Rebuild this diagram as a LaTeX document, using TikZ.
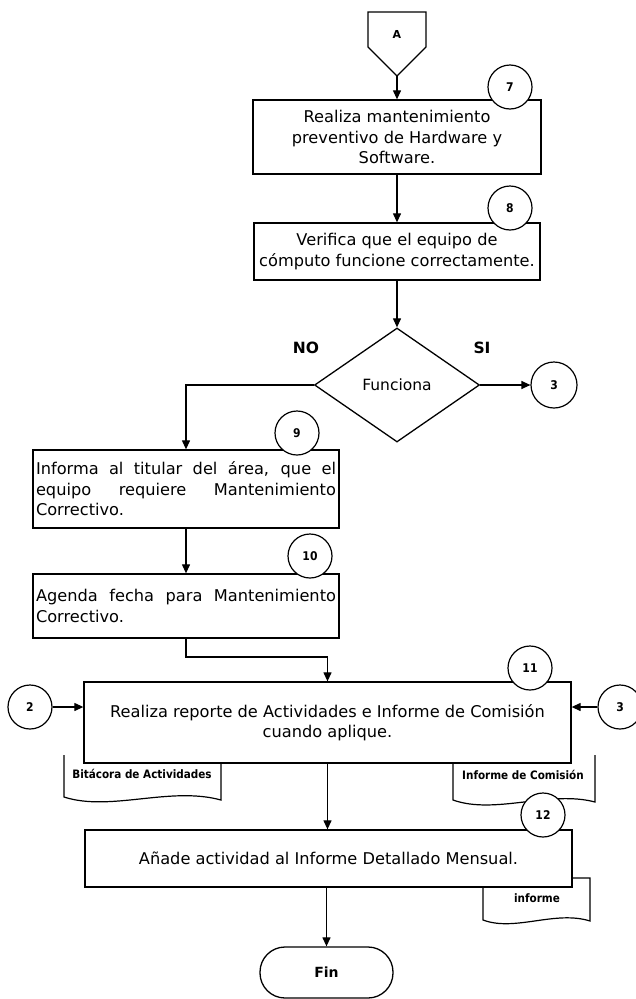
\documentclass[tikz,border=0pt]{standalone}
\usepackage{fontspec}
\setmainfont{DejaVu Sans}
\newfontfamily\condfont{DejaVu Sans Condensed}
\usetikzlibrary{shapes.geometric,arrows.meta}
\hyphenpenalty=10000
\exhyphenpenalty=10000
\begin{document}
\begin{tikzpicture}[x=1pt,y=-1pt,
  every path/.style={line width=1.2pt},
  box/.style={draw,line width=1.3pt,fill=white,inner sep=4pt,
    font=\fontsize{16.2}{20.5}\selectfont},
  jbox/.style={box,text width=300pt,align=justify,inner sep=3pt,anchor=center},
  num/.style={draw,circle,fill=white,minimum size=44pt,inner sep=0pt,
    font=\condfont\bfseries\fontsize{12}{14}\selectfont},
  decision/.style={draw,diamond,line width=1.3pt,minimum width=165pt,minimum height=114pt,
    inner sep=0pt,font=\fontsize{15.5}{18}\selectfont},
  term/.style={draw,rounded corners=25pt,minimum width=133pt,minimum height=51pt,
    line width=1.3pt,font=\bfseries\fontsize{14}{16}\selectfont},
  doclabel/.style={font=\condfont\bfseries\fontsize{11.6}{13}\selectfont},
  arr/.style={-{Triangle[length=9pt,width=8pt]}},
  yn/.style={font=\bfseries\fontsize{15.5}{17}\selectfont}]
\useasboundingbox (0,0) rectangle (635,999);

% off-page connector A
\draw[line width=1.3pt] (368,12) -- (426,12) -- (426,47) -- (397,76) -- (368,47) -- cycle;
\node[font=\bfseries\fontsize{11}{13}\selectfont] (A) at (397,34) {A};
\coordinate (Atip) at (397,76);

% process boxes
\node[box,minimum width=288pt,minimum height=74pt,align=center] (b7) at (397,137)
  {Realiza mantenimiento\\preventivo de Hardware y\\Software.};
\node[box,minimum width=286pt,minimum height=57pt,align=center] (b8) at (397,251.5)
  {Verifica que el equipo de\\cómputo funcione correctamente.};
\node[decision] (dec) at (397,385) {Funciona};
\node[jbox,minimum height=78pt] (b9) at (186,489)
  {Informa al titular del área, que el\linebreak equipo requiere Mantenimiento\linebreak Correctivo.};
\node[jbox,minimum height=64pt] (b10) at (186,606)
  {Agenda fecha para Mantenimiento\linebreak Correctivo.};

% documents under box 11 and box 12
\draw[line width=1.2pt,fill=white] (64,755) -- (64,797)
  .. controls (110,812) and (170,786) .. (221,800) -- (221,755);
\node[doclabel] (d1) at (142,774) {Bitácora de Actividades};
\draw[line width=1.2pt,fill=white] (453,755) -- (453,800)
  .. controls (495,815) and (550,790) .. (595,802) -- (595,755);
\node[doclabel] (d2) at (523,775) {Informe de Comisión};
\draw[line width=1.2pt,fill=white] (483,878) -- (483,920)
  .. controls (515,932) and (555,910) .. (590,921) -- (590,878) -- cycle;
\node[doclabel] (d3) at (537,898) {informe};

\node[box,minimum width=487pt,minimum height=81pt,align=center] (b11) at (327.5,722.5)
  {Realiza reporte de Actividades e Informe de Comisión\\cuando aplique.};
\node[box,minimum width=487pt,minimum height=57pt,align=center] (b12) at (328.5,858.5)
  {Añade actividad al Informe Detallado Mensual.};
\node[term] (fin) at (326.5,972.5) {Fin};

% step numbers and connectors
\node[num] (c7) at (510,87) {7};
\node[num] (c8) at (510,208) {8};
\node[num,minimum size=46pt] (c3a) at (554,385) {3};
\node[num] (c9) at (297,433) {9};
\node[num] (c10) at (310,556) {10};
\node[num] (c11) at (530,668) {11};
\node[num] (c2) at (30,707) {2};
\node[num] (c3b) at (620,707) {3};
\node[num] (c12) at (543,815) {12};

% labels of the decision
\node[yn] (no) at (306,348) {NO};
\node[yn] (si) at (482,348) {SI};

% flow
\draw[arr] (Atip) -- (b7.north);
\draw[arr] (b7.south) -- (b8.north);
\draw[arr] (b8.south) -- (dec.north);
\draw[arr] (dec.east) -- (c3a.west);
\draw[arr] (dec.west) -| (b9.north);
\draw[arr] (b9.south) -- (b10.north);
\coordinate (j1) at (327.5,657);
\draw[arr] (b10.south) |- (j1) -- (b11.north);
\draw[arr] (c2.east) -- (c2.east -| b11.west);
\draw[arr] (c3b.west) -- (c3b.west -| b11.east);
\draw[arr] (b11.south) -- (b12.north -| b11.south);
\draw[arr] (b12.south -| fin.north) -- (fin.north);
\end{tikzpicture}
\end{document}
